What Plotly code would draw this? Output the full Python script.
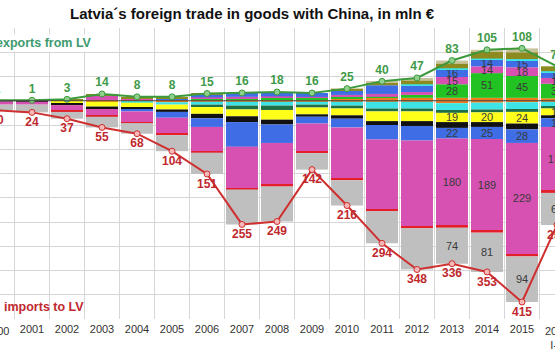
import plotly.graph_objects as go

# ---------------- data ----------------
years = list(range(2000, 2017))
tick_text = [str(y) for y in years]
tick_text[-1] = "2016<br>I-V"

exports_total = [1, 1, 3, 14, 8, 8, 15, 16, 18, 16, 25, 40, 47, 83, 105, 108, 71]
imports_total = [20, 24, 37, 55, 68, 104, 151, 255, 249, 142, 216, 294, 348, 336, 353, 415, 256]

# export product groups (stacked upward from zero)
exp_orange = [0, 0, 0, 1, 1, 1, 2, 3, 3, 3, 4, 6, 6, 6, 6, 6, 5]
exp_green  = [0, 0, 0, 0, 0, 0, 2, 2, 3, 3, 4, 2, 6, 28, 51, 45, 30]
exp_pink   = [1, 1, 1, 10, 3, 2, 3, 3, 3, 2, 4, 6, 6, 15, 14, 18, 12]
exp_blue   = [0, 0, 0, 0, 0, 1, 6, 8, 9, 8, 10, 18, 14, 16, 14, 15, 12]
exp_cyan   = [0, 0, 0, 0, 0, 0, 0, 0, 0, 0, 0, 0, 2, 2, 2, 2, 2]
exp_olive  = [0, 0, 2, 3, 4, 4, 2, 0, 0, 0, 3, 6, 8, 10, 14, 14, 10]
exp_khaki  = [0, 0, 0, 0, 0, 0, 0, 0, 0, 0, 0, 2, 5, 6, 4, 8, 0]

# import product groups (stacked downward from zero)
imp_orange = [0, 0, 0, 2, 2, 3, 2, 2, 2, 2, 2, 2, 2, 5, 4, 3, 2]
imp_cyan   = [0, 0, 0, 0, 2, 5, 6, 8, 8, 6, 8, 14, 14, 14, 14, 14, 10]
imp_dgreen = [0, 0, 0, 0, 0, 0, 5, 8, 9, 6, 6, 6, 6, 6, 6, 6, 4]
imp_yellow = [0, 0, 6, 10, 10, 10, 14, 14, 20, 14, 14, 20, 20, 19, 20, 24, 14]
imp_black  = [1, 2, 3, 5, 4, 5, 9, 12, 10, 5, 7, 8, 10, 12, 10, 12, 6]
imp_blue   = [0, 0, 0, 0, 4, 12, 18, 51, 38, 14, 18, 30, 30, 22, 25, 28, 18]
imp_pink   = [7, 6, 12, 14, 22, 33, 50, 85, 86, 58, 105, 144, 177, 180, 189, 229, 132]
imp_red    = [0, 0, 2, 2, 2, 3, 3, 3, 4, 3, 4, 4, 4, 4, 4, 5, 4]
imp_gray   = [12, 16, 14, 22, 22, 33, 44, 72, 72, 34, 52, 66, 85, 74, 81, 94, 66]

label_from_year = 2013

# ---------------- styles ----------------
FONT = "Liberation Sans, Arial, sans-serif"
exp_series = [
    (exp_orange, "#f07c1c", False),
    (exp_green, "#22c222", True),
    (exp_pink, "#d651b2", True),
    (exp_blue, "#3f6de6", True),
    (exp_cyan, "#3ee3e6", False),
    (exp_olive, "#8d8a1f", False),
    (exp_khaki, "#c9c29c", False),
]
imp_series = [
    (imp_orange, "#f07c1c", False),
    (imp_cyan, "#3ee3e6", False),
    (imp_dgreen, "#1f6e45", False),
    (imp_yellow, "#ffff1a", True),
    (imp_black, "#111111", False),
    (imp_blue, "#3f6de6", True),
    (imp_pink, "#d651b2", True),
    (imp_red, "#e3202a", False),
    (imp_gray, "#bfbfbf", True),
]

fig = go.Figure()


def seg_text(vals, labelled):
    return [str(v) if (labelled and y >= label_from_year and v > 0) else ""
            for y, v in zip(years, vals)]


for vals, color, labelled in exp_series:
    fig.add_bar(x=years, y=vals, marker=dict(color=color, line=dict(width=0)),
                text=seg_text(vals, labelled), textposition="inside",
                insidetextanchor="middle", constraintext="none", textangle=0,
                textfont=dict(family=FONT, size=11, color="#3a3a3a"),
                hoverinfo="skip", showlegend=False)

for vals, color, labelled in imp_series:
    fig.add_bar(x=years, y=[-v for v in vals], marker=dict(color=color, line=dict(width=0)),
                text=seg_text(vals, labelled), textposition="inside",
                insidetextanchor="middle", constraintext="none", textangle=0,
                textfont=dict(family=FONT, size=11, color="#3a3a3a"),
                hoverinfo="skip", showlegend=False)

fig.add_scatter(x=years, y=exports_total, mode="lines+markers+text",
                text=[str(v) for v in exports_total], textposition="top center",
                line=dict(color="#3c9a3c", width=2),
                marker=dict(size=6, color="#8fd08f", line=dict(color="#3c9a3c", width=1)),
                textfont=dict(family=FONT, size=12, color="#3f9a48", weight="bold"),
                showlegend=False)

fig.add_scatter(x=years, y=[-v for v in imports_total], mode="lines+markers+text",
                text=[str(v) for v in imports_total], textposition="bottom center",
                line=dict(color="#cf2f2f", width=2),
                marker=dict(size=6, color="#f4b8b8", line=dict(color="#cf2f2f", width=1)),
                textfont=dict(family=FONT, size=12, color="#c0282d", weight="bold"),
                showlegend=False)

# axis geometry (35 px per year, 2001 centred at x=32)
W, H = 555, 350
px_per_year = 35.0
x0 = 2001 - 32 / px_per_year
x1 = x0 + W / px_per_year
yr = [-450, 150]

annotations = [
    dict(text="Latvia´s foreign trade in goods with China, in mln €", xref="paper", yref="paper",
         x=252 / W, y=1 + 14 / 291, xanchor="center", yanchor="middle", showarrow=False,
         font=dict(family=FONT, size=15, color="#111", weight="bold")),
    dict(text="exports from LV", xref="paper", yref="paper", x=94 / W, y=1 - 15 / 291,
         xanchor="right", yanchor="middle", showarrow=False, bgcolor="white",
         font=dict(family=FONT, size=12.5, color="#3d9a6e", weight="bold")),
    dict(text="imports to LV", xref="paper", yref="paper", x=2 / W, y=12 / 291,
         xanchor="left", yanchor="middle", showarrow=False,
         font=dict(family=FONT, size=12.5, color="#c0282d", weight="bold")),
]
# tick labels that fall outside the visible x-range (cut by the image edge)
for y, t in zip(years, tick_text):
    if y < x0 or y > x1:
        annotations.append(dict(text=t, xref="paper", yref="paper",
                                x=(y - x0) / (x1 - x0), y=-4 / 291, xanchor="center",
                                yanchor="top", showarrow=False,
                                font=dict(family=FONT, size=11, color="#333")))

fig.update_layout(
    width=W, height=H, margin=dict(l=0, r=0, t=28, b=31),
    barmode="relative", bargap=0.086,
    plot_bgcolor="white", paper_bgcolor="white",
    annotations=annotations,
    xaxis=dict(range=[x0, x1], tickvals=years, ticktext=tick_text, showgrid=False,
               zeroline=False, showline=False, ticks="", ticklabelstandoff=2,
               tickfont=dict(family=FONT, size=11, color="#333"),
               minor=dict(tick0=2000.5, dtick=1, showgrid=True, gridcolor="#d6d6d6",
                          gridwidth=1, ticks="")),
    yaxis=dict(range=yr, tickvals=list(range(-400, 101, 50)), showticklabels=False,
               showgrid=True, gridcolor="#d6d6d6", gridwidth=1, zeroline=False,
               showline=False, ticks=""),
    shapes=[dict(type="line", xref="paper", x0=0, x1=1, yref="y", y0=0, y1=0,
                 line=dict(color="#444", width=1.2), layer="above")],
)

fig.write_html("out.html")
